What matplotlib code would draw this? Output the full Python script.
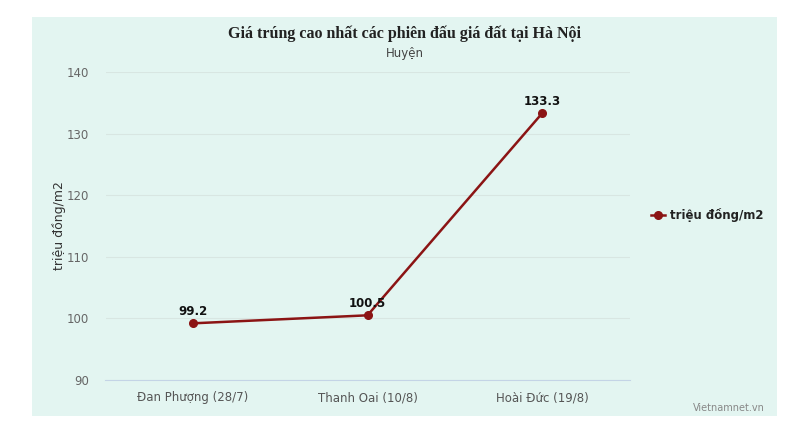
import matplotlib
matplotlib.use("Agg")
import matplotlib.pyplot as plt
from matplotlib.patches import Rectangle

categories = ["Đan Phượng (28/7)", "Thanh Oai (10/8)", "Hoài Đức (19/8)"]
values = [99.2, 100.5, 133.3]
series_name = "triệu đồng/m2"
y_ticks = [90, 100, 110, 120, 130, 140]

W, H = 793, 426
fig = plt.figure(figsize=(W / 100, H / 100), dpi=100)
fig.patch.set_facecolor("white")
bg = "#e3f5f1"
fig.patches.append(Rectangle((32 / W, 1 - 416 / H), (777 - 32) / W, (416 - 17) / H,
                             transform=fig.transFigure, facecolor=bg, edgecolor="none", zorder=-5))

ax = fig.add_axes([105.5 / W, 1 - 380 / H, (629.5 - 105.5) / W, (380 - 72) / H])
ax.set_zorder(2)
ax.set_facecolor(bg)
x = list(range(len(categories)))
line, = ax.plot(x, values, color="#8b1414", lw=1.8, marker="o", ms=5.5, label=series_name, zorder=3)
for xi, v in zip(x, values):
    ax.annotate(f"{v}", (xi, v), xytext=(0, 4), textcoords="offset points",
                ha="center", va="bottom", fontsize=8.5, color="#111111", fontweight="semibold")

ax.set_xlim(-0.5, 2.5)
ax.set_ylim(90, 140)
ax.set_yticks(y_ticks)
ax.set_xticks(x)
ax.set_xticklabels(categories, fontsize=8.5, color="#555555")
ax.tick_params(axis="y", labelsize=8.5, labelcolor="#666666", length=0, pad=12)
ax.tick_params(axis="x", length=0, pad=8)
ax.grid(axis="y", color="#d8e6e2", lw=0.8)
ax.set_axisbelow(True)
for s in ["top", "right", "left"]:
    ax.spines[s].set_visible(False)
ax.spines["bottom"].set_color("#c4d4e6")
ax.set_ylabel("triệu đồng/m2", fontsize=9, color="#333333", labelpad=0)

fig.text(405 / W, 1 - 34 / H, "Giá trúng cao nhất các phiên đấu giá đất tại Hà Nội",
         ha="center", va="center", fontsize=11.5, fontweight="bold", family="Liberation Serif", color="#222222")
fig.text(405 / W, 1 - 54 / H, "Huyện", ha="center", va="center", fontsize=8.5, color="#444444")
fig.text(765 / W, 1 - 408 / H, "Vietnamnet.vn", ha="right", va="center", fontsize=7, color="#888888")

leg = fig.legend(handles=[line], loc="center left", bbox_to_anchor=(640 / W, 1 - 215 / H),
                 frameon=False, fontsize=8.5, handlelength=1.2, handletextpad=0.4)
for t in leg.get_texts():
    t.set_color("#222222")
    t.set_fontweight("semibold")

fig.savefig("out.png", dpi=100, facecolor="white")
